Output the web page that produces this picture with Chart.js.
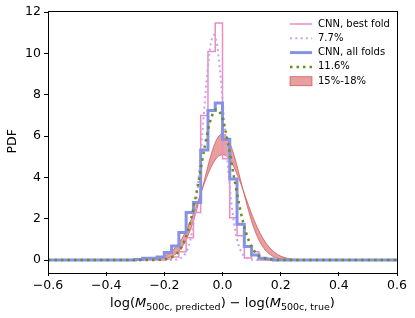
<!DOCTYPE html>
<html>
<head>
<meta charset="utf-8">
<script src="https://cdn.jsdelivr.net/npm/chart.js@4"></script>
<style>
  html, body { margin: 0; padding: 0; background: #fff; }
</style>
</head>
<body>
<canvas id="pdfChart" width="415" height="318"></canvas>
<script>
// histogram bins: left edges (last entry closes the step line)
const binLefts = [-0.6, -0.3, -0.275, -0.25, -0.225, -0.2, -0.175, -0.15, -0.125, -0.1, -0.075, -0.05, -0.025, 0, 0.025, 0.05, 0.075, 0.1, 0.125, 0.15, 0.175, 0.6];
const bestFold = [0, 0, 0, 0, 0, 0.05, 0.15, 0.4, 1.08, 2.3, 7.0, 10.1, 11.47, 4.9, 2.05, 1.17, 0.1, 0.4, 0, 0, 0, 0];
const allFolds = [0, 0.02, 0.08, 0.08, 0.15, 0.36, 0.68, 1.33, 2.3, 2.78, 5.33, 7.24, 7.6, 5.85, 3.92, 1.73, 0.65, 0.24, 0.08, 0.05, 0, 0];

// 7.7% curve
const narrowX = [-0.6, -0.18, -0.17, -0.16, -0.15, -0.14, -0.13, -0.12, -0.11, -0.1, -0.09, -0.08, -0.07, -0.06, -0.05, -0.04, -0.03, -0.02, -0.01, 0, 0.01, 0.02, 0.03, 0.04, 0.05, 0.06, 0.07, 0.08, 0.09, 0.1, 0.11, 0.12, 0.6];
const narrowY = [0, 0, 0.01, 0.02, 0.05, 0.12, 0.26, 0.53, 1.0, 1.75, 2.84, 4.29, 6.0, 7.79, 9.39, 10.5, 10.9, 10.5, 9.39, 7.79, 6.0, 4.29, 2.84, 1.75, 1.0, 0.53, 0.26, 0.12, 0.05, 0.02, 0.01, 0, 0];

// 11.6% curve
const wideX = [-0.6, -0.24, -0.22, -0.2, -0.18, -0.16, -0.14, -0.12, -0.1, -0.08, -0.06, -0.04, -0.02, 0, 0.02, 0.04, 0.06, 0.08, 0.1, 0.12, 0.14, 0.16, 0.18, 0.2, 0.6];
const wideY = [0, 0, 0.01, 0.03, 0.1, 0.27, 0.65, 1.36, 2.5, 3.99, 5.58, 6.83, 7.3, 6.83, 5.58, 3.99, 2.5, 1.36, 0.65, 0.27, 0.1, 0.03, 0.01, 0, 0];

// 15%-18% band
const bandX = [-0.6, -0.3, -0.28, -0.26, -0.24, -0.22, -0.2, -0.18, -0.16, -0.14, -0.12, -0.1, -0.08, -0.06, -0.04, -0.02, 0, 0.02, 0.04, 0.06, 0.08, 0.1, 0.12, 0.14, 0.16, 0.18, 0.2, 0.22, 0.24, 0.26, 0.28, 0.3, 0.6];
const band15 = [0, 0, 0, 0, 0.01, 0.02, 0.05, 0.13, 0.3, 0.61, 1.12, 1.88, 2.88, 4.0, 5.07, 5.84, 6.12, 5.84, 5.07, 4.0, 2.88, 1.88, 1.12, 0.61, 0.3, 0.13, 0.05, 0.02, 0.01, 0, 0, 0, 0];
const band18 = [0, 0, 0.01, 0.02, 0.05, 0.1, 0.19, 0.36, 0.63, 1.03, 1.57, 2.25, 3.02, 3.8, 4.47, 4.94, 5.1, 4.94, 4.47, 3.8, 3.02, 2.25, 1.57, 1.03, 0.63, 0.36, 0.19, 0.1, 0.05, 0.02, 0.01, 0, 0];

const xTicks = [-0.6, -0.4, -0.2, 0, 0.2, 0.4, 0.6];
const yTicks = [0, 2, 4, 6, 8, 10, 12];
const legendLabels = ["CNN, best fold", "7.7%", "CNN, all folds", "11.6%", "15%-18%"];

const FONT = "DejaVu Sans";
const pink = "rgb(238,140,192)";
const lavender = "rgb(196,164,240)";
const blue = "rgb(135,145,230)";
const green = "#6b8e23";
const bandFill = "rgba(214,80,80,0.55)";
const bandEdge = "rgba(200,60,60,0.75)";

const zip = (xs, ys) => xs.map((x, i) => ({ x: x, y: ys[i] }));

const extras = {
  id: "extras",
  afterDraw(chart) {
    const { ctx, chartArea: a } = chart;
    ctx.save();
    // axes box
    ctx.strokeStyle = "#000";
    ctx.lineWidth = 1;
    ctx.strokeRect(Math.round(a.left) + 0.5, Math.round(a.top) + 0.5,
      Math.round(a.right - a.left), Math.round(a.bottom - a.top));

    // x axis label with subscripts
    const main = "13px '" + FONT + "'";
    const ital = "oblique 13px '" + FONT + "'";
    const sub = "9.5px '" + FONT + "'";
    const parts = [
      ["log(", main, 0], ["M", ital, 0], ["500c, predicted", sub, 3],
      [") \u2212 log(", main, 0], ["M", ital, 0], ["500c, true", sub, 3], [")", main, 0]
    ];
    let total = 0;
    parts.forEach(p => { ctx.font = p[1]; total += ctx.measureText(p[0]).width; });
    let x = (a.left + a.right) / 2 - total / 2;
    ctx.fillStyle = "#000";
    ctx.textBaseline = "alphabetic";
    ctx.textAlign = "left";
    parts.forEach(p => {
      ctx.font = p[1];
      ctx.fillText(p[0], x, 306.5 + p[2]);
      x += ctx.measureText(p[0]).width;
    });

    // legend
    const ds = chart.data.datasets;
    const rows = [ds[2], ds[3], ds[4], ds[5], ds[1]];
    ctx.font = "10px '" + FONT + "'";
    ctx.textBaseline = "middle";
    rows.forEach((d, i) => {
      const y = 24 + i * 14.3;
      if (i === 4) {
        ctx.fillStyle = bandFill;
        ctx.fillRect(290, y - 4.5, 22, 9);
        ctx.strokeStyle = bandEdge;
        ctx.lineWidth = 0.8;
        ctx.strokeRect(290, y - 4.5, 22, 9);
      } else {
        ctx.strokeStyle = d.borderColor;
        ctx.lineWidth = d.borderWidth;
        ctx.setLineDash(d.borderDash || []);
        ctx.beginPath();
        ctx.moveTo(290, y);
        ctx.lineTo(312, y);
        ctx.stroke();
        ctx.setLineDash([]);
      }
      ctx.fillStyle = "#000";
      ctx.fillText(legendLabels[i], 318, y);
    });
    ctx.restore();
  }
};

new Chart(document.getElementById("pdfChart"), {
  type: "line",
  data: {
    datasets: [
      {
        label: "15%",
        data: zip(bandX, band15),
        borderColor: bandEdge,
        borderWidth: 0.8,
        fill: false,
        cubicInterpolationMode: "monotone",
        order: 5
      },
      {
        label: legendLabels[4],
        data: zip(bandX, band18),
        borderColor: bandEdge,
        borderWidth: 0.8,
        backgroundColor: bandFill,
        fill: "-1",
        cubicInterpolationMode: "monotone",
        order: 5
      },
      {
        label: legendLabels[0],
        data: zip(binLefts, bestFold),
        borderColor: pink,
        borderWidth: 1.5,
        stepped: true,
        fill: false,
        order: 4
      },
      {
        label: legendLabels[1],
        data: zip(narrowX, narrowY),
        borderColor: lavender,
        borderWidth: 2,
        borderDash: [2, 3.3],
        fill: false,
        cubicInterpolationMode: "monotone",
        order: 3
      },
      {
        label: legendLabels[2],
        data: zip(binLefts, allFolds),
        borderColor: blue,
        borderWidth: 3,
        stepped: true,
        fill: false,
        order: 2
      },
      {
        label: legendLabels[3],
        data: zip(wideX, wideY),
        borderColor: green,
        borderWidth: 2.5,
        borderDash: [2.5, 4],
        fill: false,
        cubicInterpolationMode: "monotone",
        order: 1
      }
    ]
  },
  options: {
    responsive: false,
    animation: false,
    devicePixelRatio: 1,
    layout: { padding: { top: 10, right: 18, left: 0, bottom: 0 } },
    elements: { point: { radius: 0 } },
    plugins: { legend: { display: false }, tooltip: { enabled: false } },
    scales: {
      x: {
        type: "linear",
        min: -0.6,
        max: 0.6,
        afterBuildTicks: s => { s.ticks = xTicks.map(v => ({ value: v })); },
        afterFit: s => { s.height = 46; },
        border: { display: false },
        grid: { drawOnChartArea: false, drawTicks: true, tickLength: 4, color: "#000" },
        ticks: {
          color: "#000",
          padding: 2,
          maxRotation: 0,
          font: { family: FONT, size: 12.5 },
          callback: v => (v < 0 ? "\u2212" : "") + Math.abs(v).toFixed(1)
        }
      },
      y: {
        min: -0.58,
        max: 12.08,
        afterBuildTicks: s => { s.ticks = yTicks.map(v => ({ value: v })); },
        afterFit: s => { s.width = 48; },
        border: { display: false },
        grid: { drawOnChartArea: false, drawTicks: true, tickLength: 4, color: "#000" },
        ticks: { color: "#000", padding: 3, font: { family: FONT, size: 12.5 } },
        title: {
          display: true,
          text: "PDF",
          color: "#000",
          font: { family: FONT, size: 12.5 },
          padding: { top: 5, bottom: 0 }
        }
      }
    }
  },
  plugins: [extras]
});
</script>
</body>
</html>
